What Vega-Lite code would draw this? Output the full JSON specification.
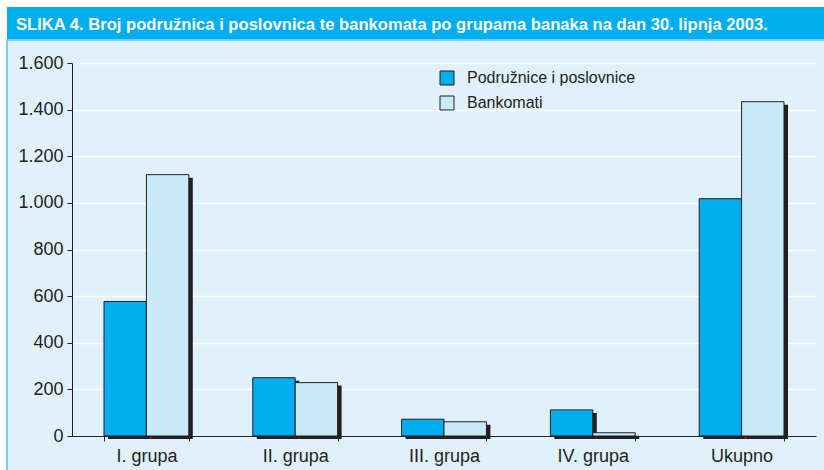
{
  "$schema": "https://vega.github.io/schema/vega-lite/v6.json",
  "background": "white",
  "padding": {"left": 6, "top": 7, "right": 0, "bottom": 0},
  "spacing": 0,
  "config": {
    "view": {"stroke": null},
    "font": "Liberation Sans"
  },
  "vconcat": [
    {
      "width": 819,
      "height": 32,
      "view": {"fill": "#00AEEF", "stroke": null},
      "title": {
        "text": "SLIKA 4. Broj podružnica i poslovnica te bankomata po grupama banaka na dan 30. lipnja 2003.",
        "orient": "top",
        "anchor": "start",
        "frame": "group",
        "offset": -40,
        "baseline": "alphabetic",
        "dx": 9,
        "font": "Liberation Sans",
        "fontSize": 16.6,
        "fontWeight": "bold",
        "color": "white"
      },
      "data": {"values": []},
      "mark": "text"
    },
    {
      "width": 819,
      "height": 432,
      "view": {"fill": "#E0F1FB", "stroke": "#6FD0F6", "strokeWidth": 2},
      "data": {
        "values": [
          {"grupa": "I. grupa", "serija": "Podružnice i poslovnice", "broj": 577},
          {"grupa": "I. grupa", "serija": "Bankomati", "broj": 1121},
          {"grupa": "II. grupa", "serija": "Podružnice i poslovnice", "broj": 250},
          {"grupa": "II. grupa", "serija": "Bankomati", "broj": 229},
          {"grupa": "III. grupa", "serija": "Podružnice i poslovnice", "broj": 72},
          {"grupa": "III. grupa", "serija": "Bankomati", "broj": 61},
          {"grupa": "IV. grupa", "serija": "Podružnice i poslovnice", "broj": 112},
          {"grupa": "IV. grupa", "serija": "Bankomati", "broj": 14},
          {"grupa": "Ukupno", "serija": "Podružnice i poslovnice", "broj": 1018},
          {"grupa": "Ukupno", "serija": "Bankomati", "broj": 1434}
        ]
      },
      "encoding": {
        "x": {
          "field": "grupa",
          "type": "nominal",
          "sort": null,
          "scale": {"range": [65, 809], "paddingInner": 0.43, "paddingOuter": 0.215},
          "axis": {
            "title": null,
            "orient": "bottom",
            "offset": -36,
            "labelAngle": 0,
            "tickBand": "extent",
            "tickSize": 5,
            "tickColor": "#231F20",
            "domainColor": "#231F20",
            "domainWidth": 1,
            "labelFontSize": 18,
            "labelColor": "#231F20",
            "labelPadding": 6,
            "grid": false
          }
        }
      },
      "layer": [
        {
          "mark": {"type": "bar", "fill": "#231F20"},
          "encoding": {
            "xOffset": {
              "field": "serija",
              "type": "nominal",
              "sort": ["Podružnice i poslovnice", "Bankomati"],
              "scale": {"range": [4, 88.816], "paddingInner": 0, "paddingOuter": 0}
            },
            "y": {
              "field": "broj",
              "type": "quantitative",
              "scale": {"domain": [0, 1600], "range": [399, 26], "nice": false},
              "axis": null
            }
          }
        },
        {
          "mark": {"type": "bar", "stroke": "#231F20", "strokeWidth": 1},
          "encoding": {
            "xOffset": {
              "field": "serija",
              "type": "nominal",
              "sort": ["Podružnice i poslovnice", "Bankomati"],
              "scale": {"paddingInner": 0, "paddingOuter": 0}
            },
            "y": {
              "field": "broj",
              "type": "quantitative",
              "scale": {"domain": [0, 1600], "range": [396, 23], "nice": false},
              "axis": {
                "title": null,
                "offset": -65,
                "values": [0, 200, 400, 600, 800, 1000, 1200, 1400, 1600],
                "labelExpr": "replace(format(datum.value, ',d'), ',', '.')",
                "tickSize": 5,
                "tickColor": "#231F20",
                "domainColor": "#231F20",
                "domainWidth": 1,
                "labelFontSize": 18,
                "labelColor": "#231F20",
                "labelPadding": 4,
                "grid": true,
                "gridColor": "white",
                "gridWidth": 1.5
              }
            },
            "fill": {
              "field": "serija",
              "type": "nominal",
              "scale": {"domain": ["Podružnice i poslovnice", "Bankomati"], "range": ["#00AEEF", "#C9EAF9"]},
              "legend": {
                "title": null,
                "orient": "none",
                "legendX": 432,
                "legendY": 63,
                "symbolType": "square",
                "symbolSize": 196,
                "symbolStrokeColor": "#231F20",
                "symbolStrokeWidth": 1,
                "labelFontSize": 16,
                "labelColor": "#231F20",
                "labelOffset": 12,
                "labelLimit": 400,
                "rowPadding": 7
              }
            }
          }
        }
      ],
      "resolve": {"scale": {"y": "independent", "xOffset": "independent"}}
    }
  ]
}
